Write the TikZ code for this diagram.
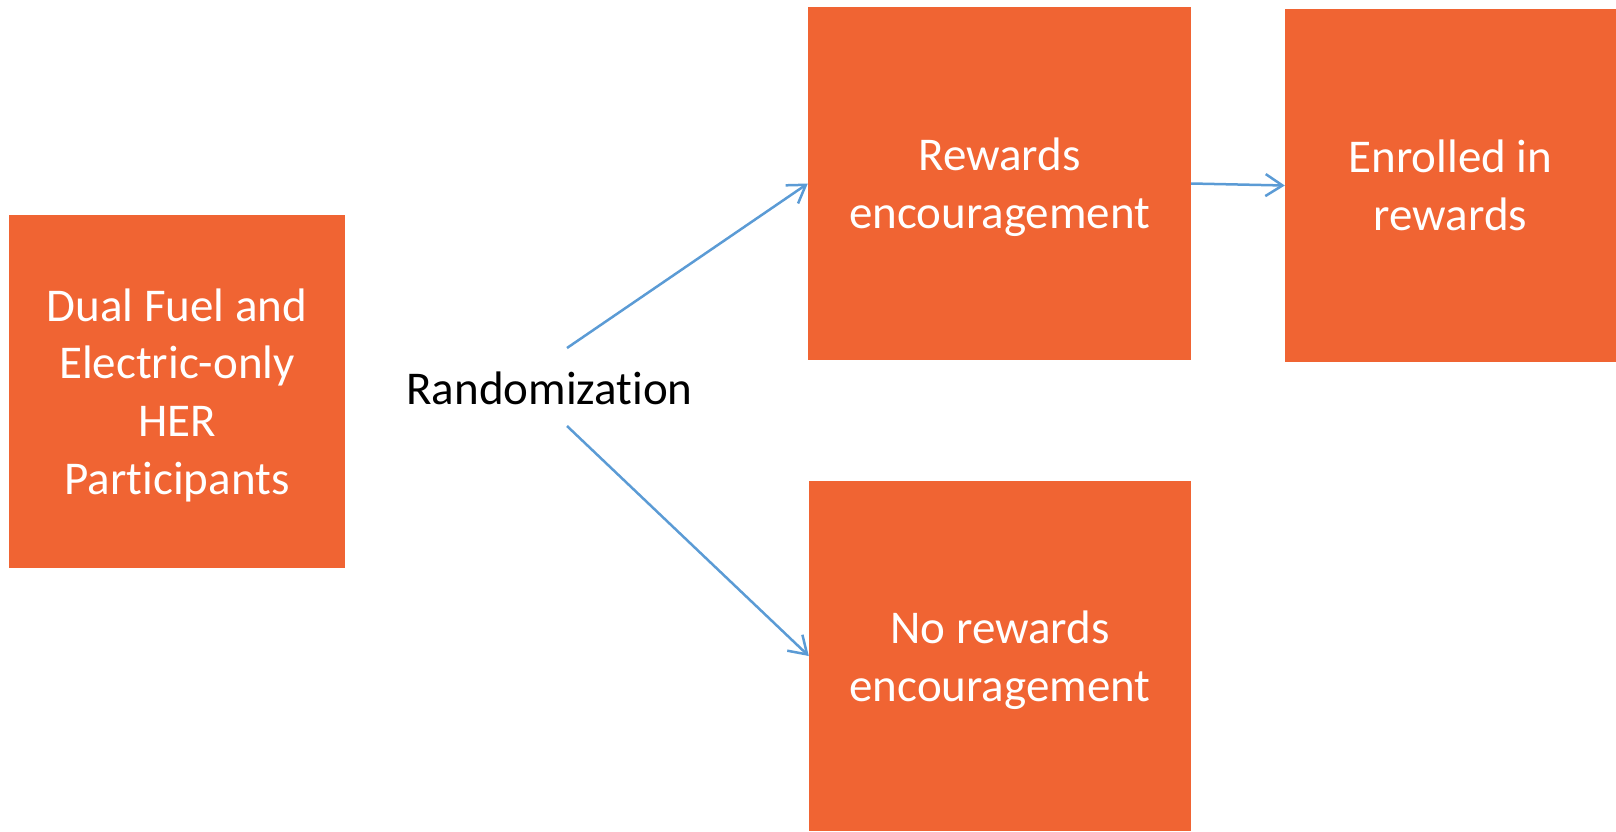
\documentclass[tikz,border=0pt]{standalone}
\usepackage{fontspec}
\setmainfont{Carlito}[RawFeature={-liga;-clig;-calt}]
\usepackage{tikz}
\usetikzlibrary{arrows.meta}
\definecolor{boxorange}{HTML}{F06433}
\definecolor{linkblue}{HTML}{5B9BD5}
\tikzset{
  block/.style={fill=boxorange, text=white, align=center, inner sep=0pt,
    font=\fontsize{47}{57.7}\selectfont, text depth=0pt},
  link/.style={draw=linkblue, line width=2.5pt,
    -{Straight Barb[length=17pt,width=22pt,line width=2.5pt]}}
}

\begin{document}
\begin{tikzpicture}[x=1pt,y=-1pt]
    \useasboundingbox (0,0) rectangle (1616,831);
        %Group boxes
    \node[block, minimum width=336pt, minimum height=353pt] (parts) at (177,391.5)
        {Dual Fuel and\\Electric-only\\HER\\Participants};
    \node[block, minimum width=383pt, minimum height=353pt] (rewards) at (999.5,183.5)
        {Rewards\\encouragement};
    \node[block, minimum width=331pt, minimum height=353pt] (enrolled) at (1450.5,185.5)
        {Enrolled in\\rewards};
    \node[block, minimum width=382pt, minimum height=350pt] (norewards) at (1000,656)
        {No rewards\\encouragement};
        %Split label
    \node[font=\fontsize{47}{57.7}\selectfont, anchor=base, inner sep=0pt] (random) at (549.5,404) {Randomization};
    \coordinate (upfork) at (567,348);
    \coordinate (downfork) at (567,426);
        %Arrows
    \draw[link] (upfork) -- (rewards.west);
    \draw[link] (downfork) -- (norewards.west);
    \draw[link] (rewards.east) -- (enrolled.west);
\end{tikzpicture}
\end{document}
